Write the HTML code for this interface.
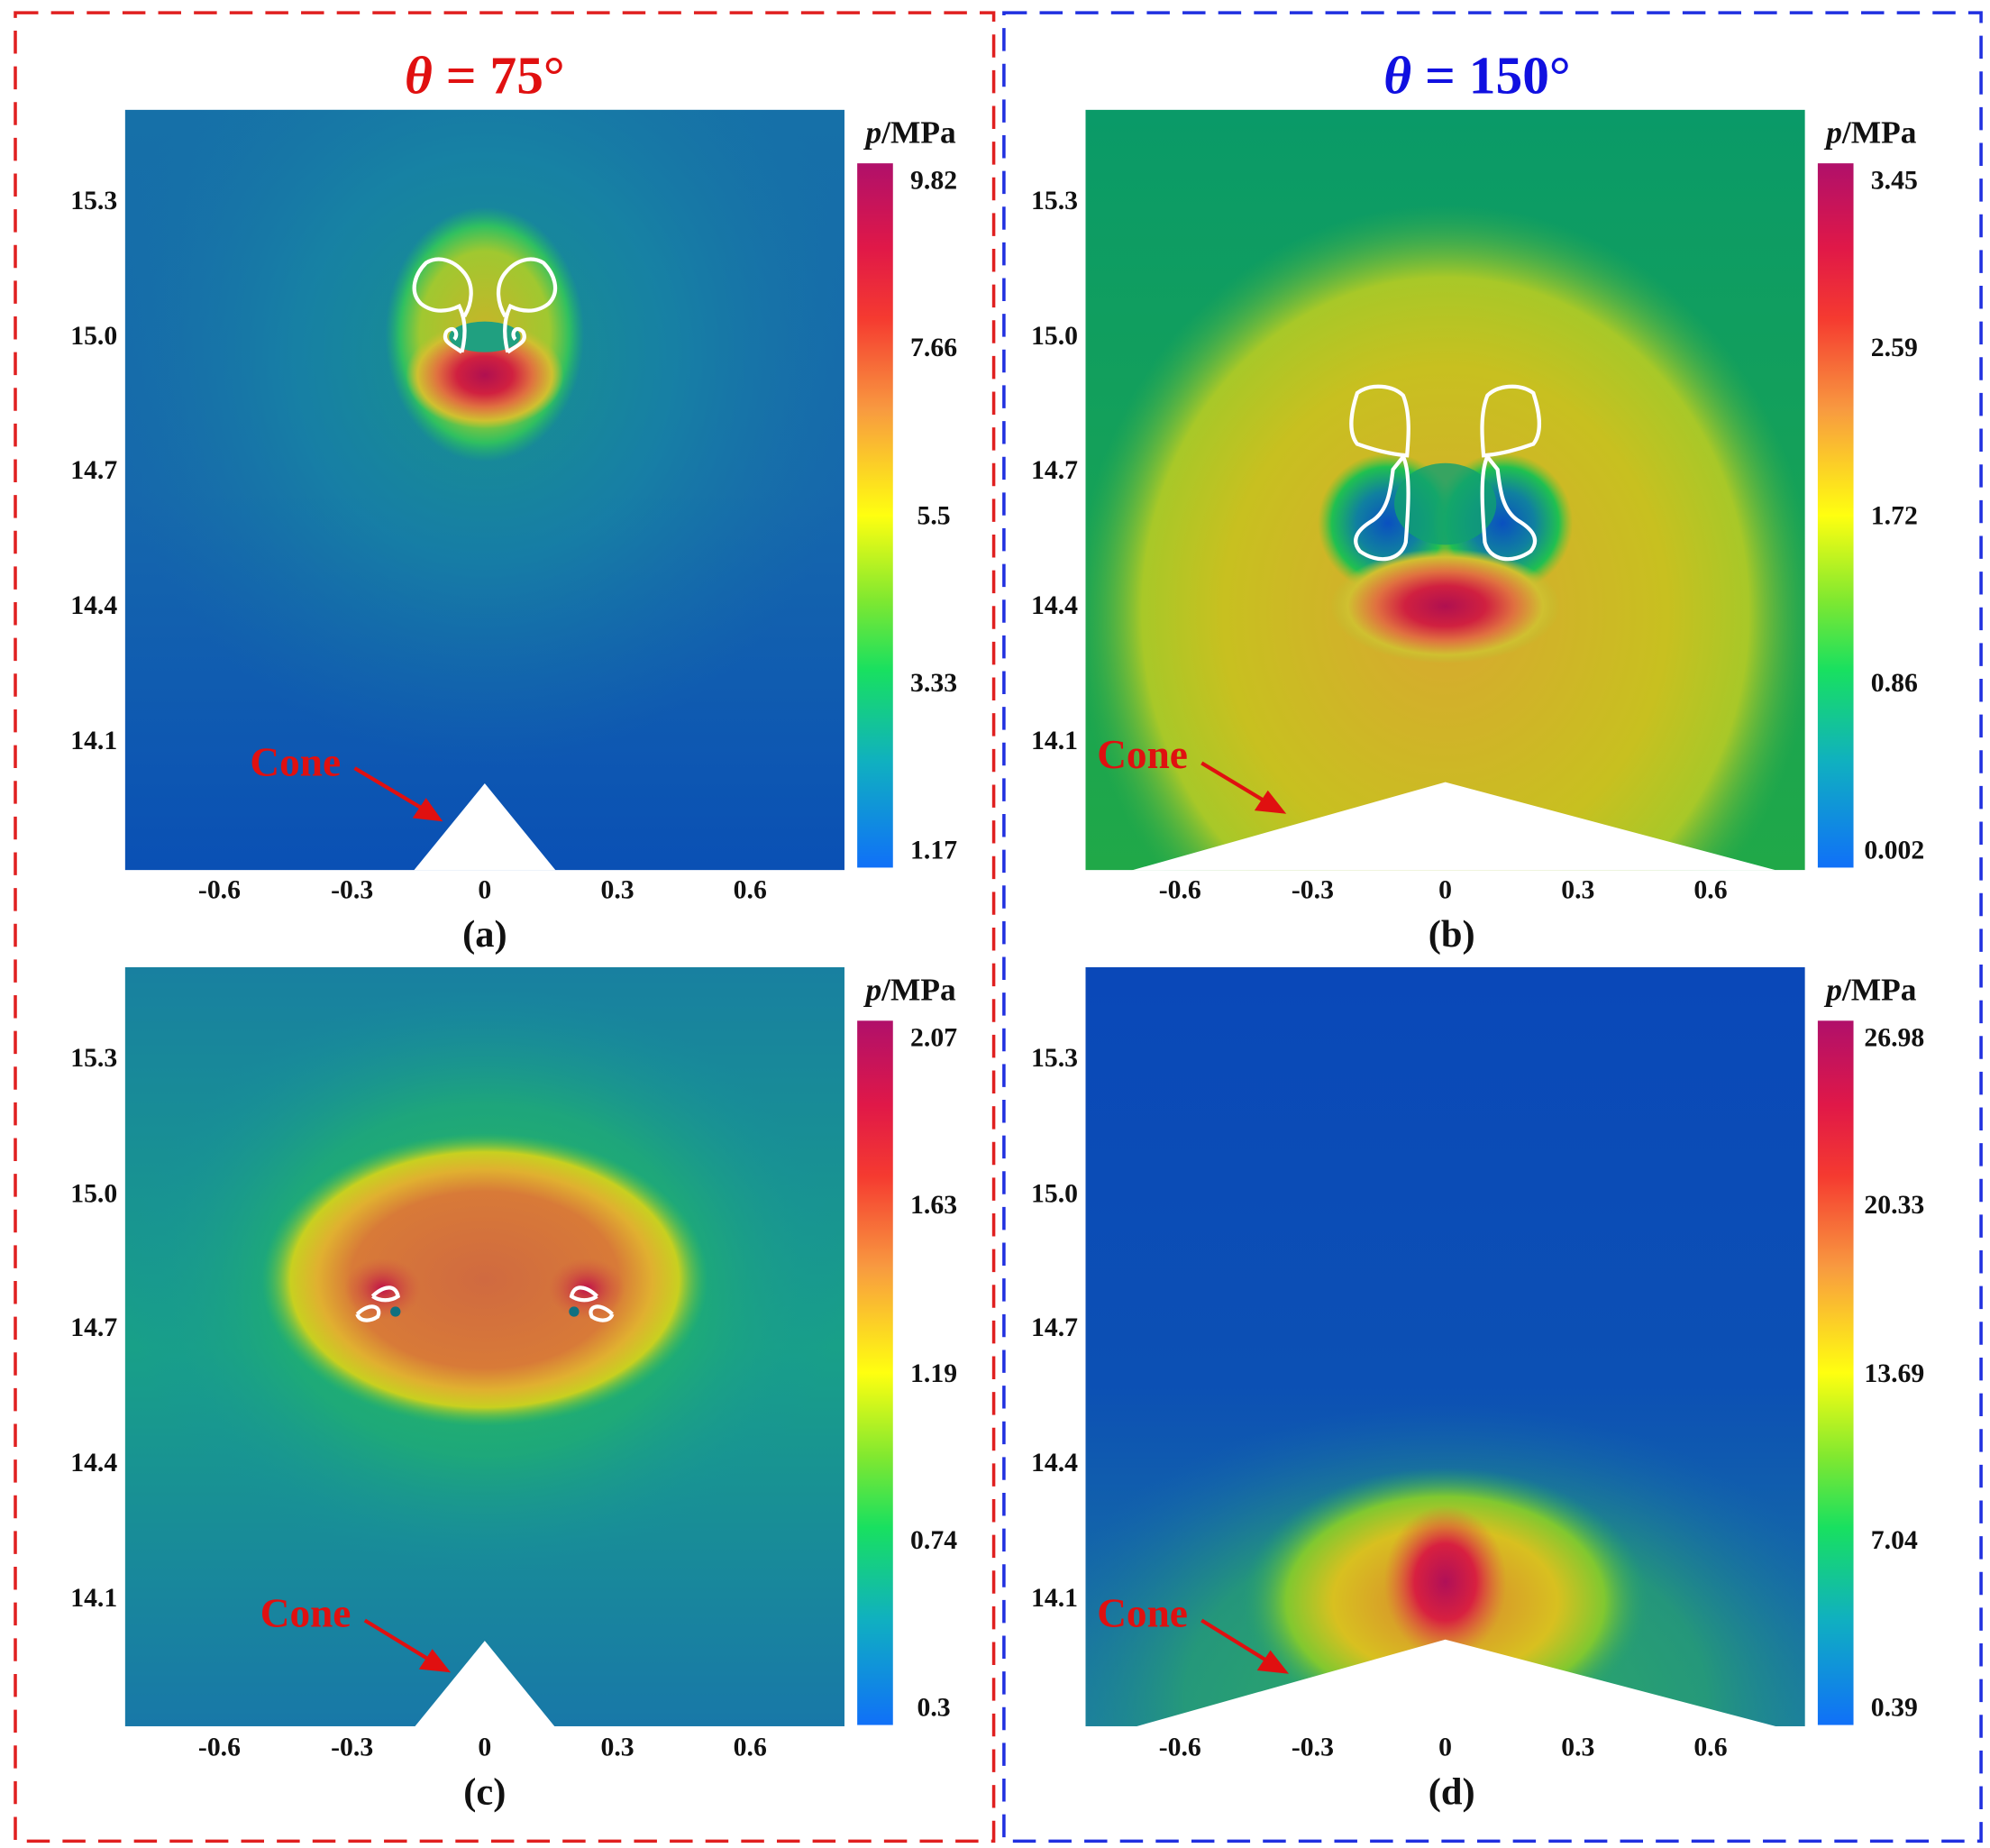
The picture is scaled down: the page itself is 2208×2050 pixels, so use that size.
<!DOCTYPE html>
<html><head><meta charset="utf-8"><style>html,body{margin:0;padding:0;background:#fff;width:2208px;height:2050px;overflow:hidden}svg{display:block}</style></head>
<body>
<svg width="2208" height="2050" viewBox="0 0 1560 1448.4" xmlns="http://www.w3.org/2000/svg" font-family="Liberation Serif, serif" font-weight="bold">
<defs>
<linearGradient id="cb" x1="0" y1="0" x2="0" y2="1">
<stop offset="0" stop-color="#b0106a"/><stop offset="0.12" stop-color="#e01848"/><stop offset="0.22" stop-color="#f53a30"/><stop offset="0.35" stop-color="#f89a40"/><stop offset="0.5" stop-color="#ffff10"/><stop offset="0.62" stop-color="#80e830"/><stop offset="0.72" stop-color="#18e060"/><stop offset="0.85" stop-color="#10b0c0"/><stop offset="1" stop-color="#1070f8"/>
</linearGradient>
<linearGradient id="bgA" x1="0" y1="0" x2="0" y2="1"><stop offset="0" stop-color="#1670a8"/><stop offset="0.5" stop-color="#1668ac"/><stop offset="1" stop-color="#0a50b4"/></linearGradient>
<radialGradient id="haloA" cx="0.5" cy="0.5" r="0.5"><stop offset="0" stop-color="#18a080"/><stop offset="0.5" stop-color="#1890a0" stop-opacity="0.7"/><stop offset="1" stop-color="#1a78a4" stop-opacity="0"/></radialGradient>
<radialGradient id="yelA" cx="0.5" cy="0.5" r="0.5"><stop offset="0" stop-color="#c8b428"/><stop offset="0.65" stop-color="#a0c830"/><stop offset="0.85" stop-color="#30c060"/><stop offset="1" stop-color="#20b070" stop-opacity="0"/></radialGradient>
<radialGradient id="redA" cx="0.5" cy="0.5" r="0.5"><stop offset="0" stop-color="#b01050"/><stop offset="0.35" stop-color="#d02040"/><stop offset="0.6" stop-color="#e07040"/><stop offset="0.85" stop-color="#d0c030"/><stop offset="1" stop-color="#c0c030" stop-opacity="0"/></radialGradient>
<linearGradient id="bgB" x1="0" y1="0" x2="0" y2="1"><stop offset="0" stop-color="#0a9a68"/><stop offset="1" stop-color="#20a848"/></linearGradient>
<radialGradient id="yelB" cx="0.5" cy="0.5" r="0.5"><stop offset="0" stop-color="#d8a830"/><stop offset="0.6" stop-color="#c8c020"/><stop offset="0.82" stop-color="#a8c828"/><stop offset="1" stop-color="#40b048" stop-opacity="0"/></radialGradient>
<radialGradient id="bluB" cx="0.5" cy="0.5" r="0.5"><stop offset="0" stop-color="#0a50c0"/><stop offset="0.45" stop-color="#1080a0"/><stop offset="0.8" stop-color="#20c050"/><stop offset="1" stop-color="#60c030" stop-opacity="0"/></radialGradient>
<linearGradient id="bgC" x1="0" y1="0" x2="0" y2="1"><stop offset="0" stop-color="#1880a0"/><stop offset="0.5" stop-color="#18a088"/><stop offset="1" stop-color="#1878a8"/></linearGradient>
<radialGradient id="haloC" cx="0.5" cy="0.5" r="0.5"><stop offset="0" stop-color="#30c050"/><stop offset="0.6" stop-color="#20b070" stop-opacity="0.7"/><stop offset="1" stop-color="#1890a0" stop-opacity="0"/></radialGradient>
<radialGradient id="ellC" cx="0.5" cy="0.5" r="0.5"><stop offset="0" stop-color="#d06a40"/><stop offset="0.6" stop-color="#d87a38"/><stop offset="0.75" stop-color="#e0b030"/><stop offset="0.87" stop-color="#c8d020"/><stop offset="1" stop-color="#40c050" stop-opacity="0"/></radialGradient>
<radialGradient id="spotC" cx="0.5" cy="0.5" r="0.5"><stop offset="0" stop-color="#c01048"/><stop offset="1" stop-color="#d05040" stop-opacity="0"/></radialGradient>
<linearGradient id="bgD" x1="0" y1="0" x2="0" y2="1"><stop offset="0" stop-color="#0a48b8"/><stop offset="0.55" stop-color="#0c50b4"/><stop offset="0.8" stop-color="#1468a8"/><stop offset="1" stop-color="#1a80a0"/></linearGradient>
<radialGradient id="grnD" cx="0.5" cy="0.5" r="0.5"><stop offset="0" stop-color="#30b060"/><stop offset="0.6" stop-color="#28a070" stop-opacity="0.8"/><stop offset="1" stop-color="#1a70a8" stop-opacity="0"/></radialGradient>
<radialGradient id="yelD" cx="0.5" cy="0.5" r="0.5"><stop offset="0" stop-color="#d88030"/><stop offset="0.55" stop-color="#d8c020"/><stop offset="0.78" stop-color="#80c830"/><stop offset="1" stop-color="#20a070" stop-opacity="0"/></radialGradient>
<radialGradient id="redD" cx="0.5" cy="0.5" r="0.5"><stop offset="0" stop-color="#b01058"/><stop offset="0.5" stop-color="#d82040"/><stop offset="1" stop-color="#e06040" stop-opacity="0"/></radialGradient>
<clipPath id="cA"><rect x="98" y="86" width="564" height="596"/></clipPath>
<clipPath id="cB"><rect x="851" y="86" width="564" height="596"/></clipPath>
<clipPath id="cC"><rect x="98" y="758" width="564" height="595"/></clipPath>
<clipPath id="cD"><rect x="851" y="758" width="564" height="595"/></clipPath>
</defs>

<rect x="12" y="10" width="767" height="1433" fill="none" stroke="#e02020" stroke-width="2.5" stroke-dasharray="18,10"/>
<rect x="787" y="10" width="766" height="1433" fill="none" stroke="#2030e0" stroke-width="2.5" stroke-dasharray="18,10"/>

<text x="380" y="73" text-anchor="middle" font-size="42" fill="#e01010"><tspan font-style="italic">θ</tspan> = 75°</text>
<text x="1158" y="73" text-anchor="middle" font-size="42" fill="#1010e0"><tspan font-style="italic">θ</tspan> = 150°</text>

<g clip-path="url(#cA)">
<rect x="98" y="86" width="564" height="596" fill="url(#bgA)"/>
<ellipse cx="380" cy="280" rx="300" ry="320" fill="url(#haloA)" opacity="0.8"/>
<ellipse cx="380" cy="262" rx="78" ry="100" fill="url(#yelA)"/>
<ellipse cx="380" cy="294" rx="62" ry="42" fill="url(#redA)"/>
<ellipse cx="380" cy="264" rx="28" ry="12" fill="#20a080"/>
<g fill="none" stroke="#fff" stroke-width="3">
<path d="M362,276 C354,270 346,268 350,260 C356,254 360,262 356,266 M362,276 C366,260 364,248 360,240 C352,244 340,246 330,238 C320,228 326,214 334,206 C344,200 356,204 364,214 C372,224 370,238 364,248"/>
<path d="M398,276 C406,270 414,268 410,260 C404,254 400,262 404,266 M398,276 C394,260 396,248 400,240 C408,244 420,246 430,238 C440,228 434,214 426,206 C416,200 404,204 396,214 C388,224 390,238 396,248"/>
</g>
<polygon points="380,614 318,690 442,690" fill="#fff"/>
</g>
<rect x="672" y="128" width="28" height="552" fill="url(#cb)"/>

<g clip-path="url(#cB)">
<rect x="851" y="86" width="564" height="596" fill="url(#bgB)"/>
<ellipse cx="1133" cy="480" rx="290" ry="320" fill="url(#yelB)"/>
<ellipse cx="1088" cy="410" rx="55" ry="55" fill="url(#bluB)"/>
<ellipse cx="1178" cy="410" rx="55" ry="55" fill="url(#bluB)"/>
<ellipse cx="1133" cy="395" rx="40" ry="32" fill="#10a070" opacity="0.8"/>
<ellipse cx="1133" cy="475" rx="90" ry="45" fill="url(#redA)"/>
<g fill="none" stroke="#fff" stroke-width="3">
<path d="M1103,357 C1090,356 1075,352 1064,348 C1056,338 1060,320 1064,308 C1075,300 1092,302 1100,310 C1106,325 1104,345 1103,357 Z"/>
<path d="M1163,357 C1176,356 1191,352 1202,348 C1210,338 1206,320 1202,308 C1191,300 1174,302 1166,310 C1160,325 1162,345 1163,357 Z"/>
<path d="M1100,358 C1106,370 1104,400 1102,425 C1098,440 1080,442 1066,432 C1058,422 1066,414 1076,408 C1088,400 1090,385 1092,368 Z"/>
<path d="M1166,358 C1160,370 1162,400 1164,425 C1168,440 1186,442 1200,432 C1208,422 1200,414 1190,408 C1178,400 1176,385 1174,368 Z"/>
</g>
<polygon points="1133,613 845,694 1420,694 1420,682 1392,682" fill="#fff"/>
</g>
<rect x="1425" y="128" width="28" height="552" fill="url(#cb)"/>

<g clip-path="url(#cC)">
<rect x="98" y="758" width="564" height="595" fill="url(#bgC)"/>
<ellipse cx="380" cy="1003" rx="280" ry="230" fill="url(#haloC)"/>
<ellipse cx="380" cy="1003" rx="175" ry="115" fill="url(#ellC)"/>
<ellipse cx="300" cy="1010" rx="30" ry="24" fill="url(#spotC)"/>
<ellipse cx="460" cy="1010" rx="30" ry="24" fill="url(#spotC)"/>
<g fill="none" stroke="#fff" stroke-width="3">
<path d="M280,1030 C290,1020 300,1024 296,1032 C290,1036 282,1036 280,1030 M292,1016 C300,1008 310,1006 312,1016 C306,1020 298,1020 292,1016"/>
<path d="M480,1030 C470,1020 460,1024 464,1032 C470,1036 478,1036 480,1030 M468,1016 C460,1008 450,1006 448,1016 C454,1020 462,1020 468,1016"/>
</g>
<circle cx="310" cy="1028" r="4" fill="#107080"/><circle cx="450" cy="1028" r="4" fill="#107080"/>
<polygon points="380,1286 318,1362 442,1362" fill="#fff"/>
</g>
<rect x="672" y="800" width="28" height="552" fill="url(#cb)"/>

<g clip-path="url(#cD)">
<rect x="851" y="758" width="564" height="595" fill="url(#bgD)"/>
<ellipse cx="1133" cy="1330" rx="340" ry="230" fill="url(#grnD)"/>
<ellipse cx="1133" cy="1255" rx="160" ry="105" fill="url(#yelD)"/>
<ellipse cx="1133" cy="1240" rx="48" ry="60" fill="url(#redD)"/>
<polygon points="1133,1285 845,1366 1420,1366 1420,1353 1392,1353" fill="#fff"/>
</g>
<rect x="1425" y="800" width="28" height="552" fill="url(#cb)"/>

<g font-size="21" fill="#111">
<g text-anchor="end">
<text x="92" y="164">15.3</text><text x="92" y="270">15.0</text><text x="92" y="375">14.7</text><text x="92" y="481">14.4</text><text x="92" y="587">14.1</text>
<text x="92" y="836">15.3</text><text x="92" y="942">15.0</text><text x="92" y="1047">14.7</text><text x="92" y="1153">14.4</text><text x="92" y="1259">14.1</text>
<text x="845" y="164">15.3</text><text x="845" y="270">15.0</text><text x="845" y="375">14.7</text><text x="845" y="481">14.4</text><text x="845" y="587">14.1</text>
<text x="845" y="836">15.3</text><text x="845" y="942">15.0</text><text x="845" y="1047">14.7</text><text x="845" y="1153">14.4</text><text x="845" y="1259">14.1</text>
</g>
<g text-anchor="middle">
<text x="172" y="704">-0.6</text><text x="276" y="704">-0.3</text><text x="380" y="704">0</text><text x="484" y="704">0.3</text><text x="588" y="704">0.6</text>
<text x="925" y="704">-0.6</text><text x="1029" y="704">-0.3</text><text x="1133" y="704">0</text><text x="1237" y="704">0.3</text><text x="1341" y="704">0.6</text>
<text x="172" y="1376">-0.6</text><text x="276" y="1376">-0.3</text><text x="380" y="1376">0</text><text x="484" y="1376">0.3</text><text x="588" y="1376">0.6</text>
<text x="925" y="1376">-0.6</text><text x="1029" y="1376">-0.3</text><text x="1133" y="1376">0</text><text x="1237" y="1376">0.3</text><text x="1341" y="1376">0.6</text>
</g>
<g text-anchor="middle">
<text x="732" y="148">9.82</text><text x="732" y="279">7.66</text><text x="732" y="411">5.5</text><text x="732" y="542">3.33</text><text x="732" y="673">1.17</text>
<text x="1485" y="148">3.45</text><text x="1485" y="279">2.59</text><text x="1485" y="411">1.72</text><text x="1485" y="542">0.86</text><text x="1485" y="673">0.002</text>
<text x="732" y="820">2.07</text><text x="732" y="951">1.63</text><text x="732" y="1083">1.19</text><text x="732" y="1214">0.74</text><text x="732" y="1345">0.3</text>
<text x="1485" y="820">26.98</text><text x="1485" y="951">20.33</text><text x="1485" y="1083">13.69</text><text x="1485" y="1214">7.04</text><text x="1485" y="1345">0.39</text>
</g>
</g>
<g font-size="25" fill="#111" text-anchor="middle">
<text x="714" y="112"><tspan font-style="italic">p</tspan>/MPa</text>
<text x="1467" y="112"><tspan font-style="italic">p</tspan>/MPa</text>
<text x="714" y="784"><tspan font-style="italic">p</tspan>/MPa</text>
<text x="1467" y="784"><tspan font-style="italic">p</tspan>/MPa</text>
<text x="380" y="742" font-size="30">(a)</text>
<text x="1138" y="742" font-size="30">(b)</text>
<text x="380" y="1414" font-size="30">(c)</text>
<text x="1138" y="1414" font-size="30">(d)</text>
</g>
<g fill="#e01010" font-size="32">
<text x="196" y="608">Cone</text>
<text x="860" y="602">Cone</text>
<text x="204" y="1275">Cone</text>
<text x="860" y="1275">Cone</text>
</g>
<g stroke="#e01010" stroke-width="3" fill="#e01010">
<line x1="278" y1="602" x2="335" y2="636"/><polygon points="344,642 326,640 334,628"/>
<line x1="942" y1="598" x2="995" y2="630"/><polygon points="1005,636 986,634 994,622"/>
<line x1="286" y1="1270" x2="340" y2="1303"/><polygon points="350,1309 331,1307 339,1295"/>
<line x1="942" y1="1270" x2="997" y2="1304"/><polygon points="1007,1310 988,1308 996,1296"/>
</g>
</svg>
</body></html>
